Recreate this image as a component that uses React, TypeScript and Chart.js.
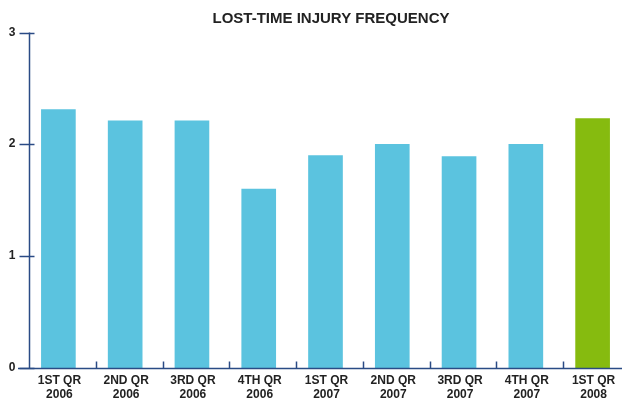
import React, { useEffect, useRef } from "react";
import { Chart, registerables } from "chart.js";

Chart.register(...registerables);

const categories: string[][] = [
  ["1ST QR", "2006"],
  ["2ND QR", "2006"],
  ["3RD QR", "2006"],
  ["4TH QR", "2006"],
  ["1ST QR", "2007"],
  ["2ND QR", "2007"],
  ["3RD QR", "2007"],
  ["4TH QR", "2007"],
  ["1ST QR", "2008"],
];
const values: number[] = [2.31, 2.21, 2.21, 1.6, 1.9, 2.0, 1.89, 2.0, 2.23];
const barColors: string[] = [
  "#5BC3DF", "#5BC3DF", "#5BC3DF", "#5BC3DF", "#5BC3DF",
  "#5BC3DF", "#5BC3DF", "#5BC3DF", "#86BB0F",
];
const yTicks: number[] = [0, 1, 2, 3];
const titleText = "LOST-TIME INJURY FREQUENCY";

const AXIS_COLOR = "#2A4B85";
const TEXT_COLOR = "#222222";
const FONT = "Liberation Sans, Arial, sans-serif";

const axesPlugin = {
  id: "customAxes",
  afterDatasetsDraw(chart: any) {
    const { ctx, chartArea, scales } = chart;
    const x = scales.x;
    const y = scales.y;
    const axisX = chartArea.left + 4.5;
    const y0 = Math.round(y.getPixelForValue(0)) + 0.5;
    const yTop = y.getPixelForValue(3);
    ctx.save();
    ctx.strokeStyle = AXIS_COLOR;
    ctx.lineWidth = 1.5;
    // y axis line
    ctx.beginPath();
    ctx.moveTo(axisX, yTop);
    ctx.lineTo(axisX, y0);
    ctx.stroke();
    // y ticks + labels
    ctx.fillStyle = TEXT_COLOR;
    ctx.font = `bold 12px ${FONT}`;
    ctx.textAlign = "right";
    ctx.textBaseline = "middle";
    yTicks.forEach((v) => {
      const py = Math.round(y.getPixelForValue(v)) + 0.5;
      ctx.beginPath();
      ctx.moveTo(axisX - 10, py);
      ctx.lineTo(axisX + 5, py);
      ctx.stroke();
      ctx.fillText(String(v), axisX - 14, py - 1);
    });
    // x axis line
    ctx.beginPath();
    ctx.moveTo(18, y0);
    ctx.lineTo(chart.width, y0);
    ctx.stroke();
    // x tick marks between categories
    for (let i = 0; i < categories.length - 1; i++) {
      const px =
        Math.round((x.getPixelForValue(i) + x.getPixelForValue(i + 1)) / 2 + 4) + 0.5;
      ctx.beginPath();
      ctx.moveTo(px, y0);
      ctx.lineTo(px, y0 - 7);
      ctx.stroke();
    }
    // x labels
    ctx.textAlign = "center";
    categories.forEach((lines, i) => {
      const px = x.getPixelForValue(i) + 1;
      ctx.fillText(lines[0], px, y0 + 12.5);
      ctx.fillText(lines[1], px, y0 + 26);
    });
    // title
    ctx.font = `bold 15px ${FONT}`;
    ctx.fillText(titleText, 331, 18.5);
    ctx.restore();
  },
};

export default function App() {
  const canvasRef = useRef<HTMLCanvasElement | null>(null);

  useEffect(() => {
    document.body.style.margin = "0";
    const canvas = canvasRef.current;
    if (!canvas) return;
    const chart = new Chart(canvas, {
      type: "bar",
      data: {
        labels: categories.map((c) => c.join(" ")),
        datasets: [
          {
            data: values,
            backgroundColor: barColors,
            borderWidth: 0,
            barThickness: 34,
          },
        ],
      },
      options: {
        animation: false,
        responsive: false,
        maintainAspectRatio: false,
        devicePixelRatio: 1,
        layout: { padding: { left: 25, top: 32.5, bottom: 32, right: 0 } },
        plugins: {
          legend: { display: false },
          title: { display: false },
          tooltip: { enabled: false },
        },
        scales: {
          x: { display: false, offset: true },
          y: { display: false, min: 0, max: 3 },
        },
      },
      plugins: [axesPlugin],
    });
    return () => chart.destroy();
  }, []);

  return (
    <div style={{ width: 622, height: 400, overflow: "hidden", position: "relative" }}>
      <canvas ref={canvasRef} width={626} height={400} style={{ display: "block" }} />
    </div>
  );
}
